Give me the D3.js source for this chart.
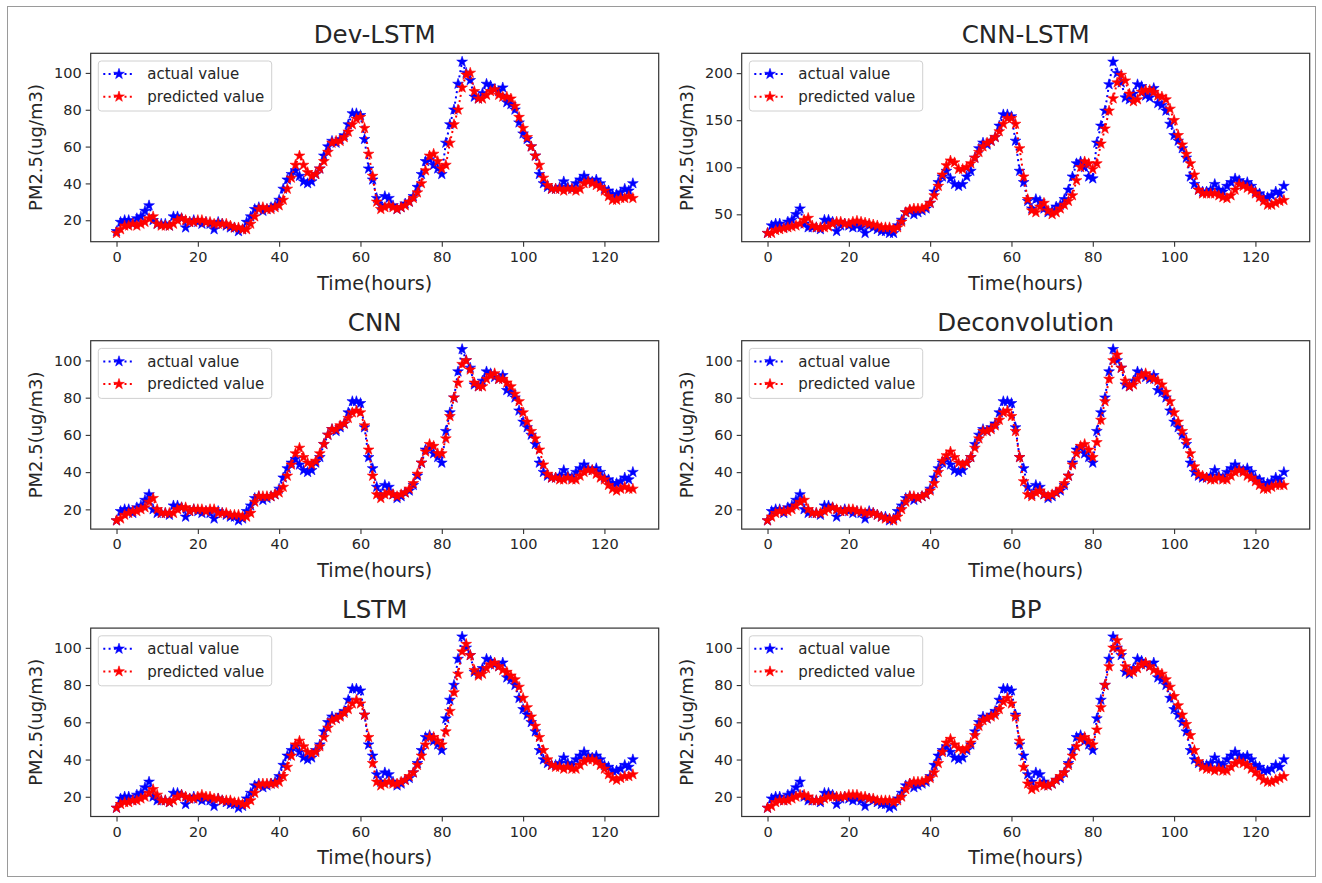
<!DOCTYPE html>
<html>
<head>
<meta charset="utf-8">
<script src="https://cdn.jsdelivr.net/npm/d3@7"></script>
<style>
html,body{margin:0;padding:0;background:#fff;}
svg{display:block;}
text{font-family:"DejaVu Sans",sans-serif;fill:#262626;}
</style>
</head>
<body>
<svg id="chart" width="1322" height="883"></svg>
<script>
// ---------------- data ----------------
const hours = d3.range(0, 128);
const xTickLabels = [0, 20, 40, 60, 80, 100, 120];
const yTickLabels = [20, 40, 60, 80, 100];
const yTickLabelsCnnLstm = [50, 100, 150, 200];
const panelTitles = ["Dev-LSTM", "CNN-LSTM", "CNN", "Deconvolution", "LSTM", "BP"];
const legendLabels = ["actual value", "predicted value"];

const actualValue = [
14,19,20,20,18,21,22,25,28,20,
18,18,18,17,22,22,21,16,19,20,
19,18,19,18,15,19,18,17,16,16,
14,15,19,22,26,27,25,26,27,28,
31,37,42,45,47,44,41,40,41,45,
48,55,60,63,62,64,66,72,78,78,
77,64,48,42,32,28,33,32,28,26,
27,29,30,33,38,45,52,53,50,48,
45,62,72,80,94,106,100,96,87,86,
89,94,93,91,90,92,84,83,80,73,
67,64,60,55,45,40,38,37,37,38,
41,38,37,40,42,44,42,41,42,40,
37,36,34,34,35,37,36,40];

const actualValueCnnLstm = [
30,38,40,40,36,42,44,50,56,40,
36,36,36,34,44,44,42,32,38,40,
38,36,38,36,30,38,36,34,32,32,
30,30,38,44,52,54,50,52,54,56,
62,74,84,90,96,88,82,80,82,90,
96,110,120,126,124,128,132,144,156,156,
154,128,96,84,64,56,66,64,56,52,
54,58,60,66,76,90,104,106,100,90,
88,126,144,160,188,212,200,190,174,172,
178,188,186,176,174,184,168,166,160,146,
134,128,120,110,90,82,76,74,74,76,
82,76,74,80,84,88,86,82,84,80,
74,72,68,68,70,74,72,80];

const predDevLstm = [
13,15,17,17,18,17,18,19,21,22,
18,17,17,17,18,20,21,20,19,19,
20,20,19,19,18,18,18,18,17,16,
16,15,15,18,22,26,27,26,26,27,
28,31,37,43,50,55,50,46,44,45,
48,52,57,62,63,63,65,68,72,75,
76,70,56,44,30,26,27,28,27,26,
27,28,30,32,35,40,47,55,56,52,
48,50,62,72,80,92,99,100,90,86,
86,88,90,91,88,87,87,86,82,76,
70,65,60,55,50,43,39,37,37,37,
36,37,37,36,37,40,41,40,39,38,
36,33,31,31,32,32,33,32];

const predCnnLstm = [
30,30,33,34,35,36,37,38,40,44,
46,38,36,36,36,37,40,42,42,40,
40,42,43,42,41,40,39,38,36,36,
36,34,36,42,52,55,56,56,56,58,
62,70,80,92,102,107,105,98,98,100,
104,110,116,122,126,128,132,138,146,152,
152,146,120,90,66,54,52,58,62,54,
50,52,56,60,64,70,86,100,106,104,
98,104,125,141,160,173,190,198,192,178,
170,172,180,182,182,180,176,175,172,162,
150,134,124,114,104,92,76,72,72,72,
72,70,68,67,70,76,82,80,78,76,
72,68,64,60,60,62,64,65];

const predCnn = [
14,15,17,18,19,19,20,21,24,26,
20,18,18,18,18,20,21,21,19,20,
20,20,19,20,20,18,18,18,17,17,
17,16,16,18,24,27,27,27,27,28,
29,32,38,44,50,53,48,45,44,46,
50,55,60,63,63,65,66,69,72,73,
72,65,52,38,28,26,28,29,28,27,
28,29,31,34,39,45,51,55,54,50,
50,58,70,80,88,98,100,95,88,86,
86,90,92,93,90,90,88,86,82,78,
72,67,62,58,52,44,39,37,37,36,
36,37,36,36,38,40,41,41,39,37,
36,33,31,30,31,32,31,31];

const predDeconv = [
14,16,18,19,19,19,20,22,24,25,
20,18,18,18,19,20,21,20,19,19,
20,20,19,19,18,18,18,17,16,15,
15,14,16,20,24,27,27,26,27,28,
30,34,40,46,49,51,48,45,44,45,
48,53,58,62,62,63,65,68,72,73,
70,62,48,35,28,27,29,30,28,27,
28,29,31,34,38,44,50,54,55,52,
48,56,68,78,90,100,103,96,89,86,
87,90,92,93,91,90,89,87,83,78,
72,67,62,57,50,43,39,38,37,36,
36,37,36,36,38,40,41,40,38,37,
35,33,31,31,32,33,33,33];

const predLstm = [
14,16,17,17,18,18,19,20,22,24,
21,18,18,17,18,20,21,20,19,19,
20,21,20,20,19,19,18,18,18,17,
17,16,16,18,22,26,27,27,27,27,
28,31,36,42,48,50,47,44,43,44,
47,52,57,61,62,63,65,67,70,72,
70,64,52,38,28,26,27,28,27,27,
28,29,31,33,37,42,48,52,52,50,
48,55,66,76,86,98,102,96,88,85,
86,89,91,92,90,88,87,85,83,79,
73,68,63,58,52,45,40,37,36,36,
35,36,35,35,37,39,40,40,39,37,
35,32,30,29,30,31,31,32];

const predBp = [
14,15,17,18,18,18,19,20,21,21,
20,18,18,18,19,20,20,20,20,20,
21,21,21,20,20,19,19,18,18,18,
18,17,18,20,24,27,28,28,28,29,
30,33,38,44,49,51,48,46,45,46,
49,53,58,61,62,63,64,67,71,73,
70,63,50,36,27,24,25,27,26,26,
27,29,31,33,37,42,47,51,52,50,
48,56,68,80,90,100,104,98,90,87,
87,89,91,92,90,88,87,86,83,79,
74,69,64,59,53,45,39,36,35,35,
34,35,34,34,36,38,39,38,37,35,
33,31,29,28,28,29,30,31];

// ---------------- layout ----------------
const colLeft = [90.7, 741.7];
const rowTop = [53.3, 340.7, 628.1];
const axW = 568, axH = 188.4;

const panels = [
  {title: panelTitles[0], actual: actualValue, pred: predDevLstm, yt: yTickLabels},
  {title: panelTitles[1], actual: actualValueCnnLstm, pred: predCnnLstm, yt: yTickLabelsCnnLstm},
  {title: panelTitles[2], actual: actualValue, pred: predCnn, yt: yTickLabels},
  {title: panelTitles[3], actual: actualValue, pred: predDeconv, yt: yTickLabels},
  {title: panelTitles[4], actual: actualValue, pred: predLstm, yt: yTickLabels},
  {title: panelTitles[5], actual: actualValue, pred: predBp, yt: yTickLabels}
];

const svg = d3.select("#chart");
svg.append("rect").attr("x", 7.5).attr("y", 6.5).attr("width", 1308).attr("height", 870)
  .attr("fill", "none").attr("stroke", "#9a9a9a").attr("stroke-width", 1);

const BLUE = "#0000ff", RED = "#ff0000";
const star = d3.symbol().type(d3.symbolStar).size(36);

panels.forEach((p, k) => {
  const col = k % 2, row = Math.floor(k / 2);
  const g = svg.append("g").attr("transform", `translate(${colLeft[col]},${rowTop[row]})`);

  const x = d3.scaleLinear().domain([-6.35, 133.35]).range([0, axW]);
  const all = p.actual.concat(p.pred);
  const lo = d3.min(all), hi = d3.max(all), pad = (hi - lo) * 0.05;
  const y = d3.scaleLinear().domain([lo - pad, hi + pad]).range([axH, 0]);

  // axes
  const xa = g.append("g").attr("transform", `translate(0,${axH})`)
    .call(d3.axisBottom(x).tickValues(xTickLabels).tickSize(5).tickPadding(4).tickFormat(d3.format("d")));
  const ya = g.append("g")
    .call(d3.axisLeft(y).tickValues(p.yt).tickSize(5).tickPadding(4).tickFormat(d3.format("d")));
  [xa, ya].forEach(a => {
    a.select(".domain").remove();
    a.selectAll(".tick line").attr("stroke", "#333").attr("stroke-width", 1.1);
    a.selectAll(".tick text").attr("font-size", 14.5).attr("fill", "#262626")
      .attr("font-family", "DejaVu Sans");
  });
  xa.selectAll(".tick text").attr("dy", "0.76em");

  // series
  const line = d3.line().x((d, i) => x(hours[i])).y(d => y(d));
  [[p.actual, BLUE], [p.pred, RED]].forEach(([data, c]) => {
    g.append("path").datum(data).attr("d", line).attr("fill", "none")
      .attr("stroke", c).attr("stroke-width", 2).attr("stroke-dasharray", "2,3.3");
    g.append("g").selectAll("path").data(data).join("path")
      .attr("d", star).attr("fill", c).attr("stroke", c).attr("stroke-width", 0.6)
      .attr("transform", (d, i) => `translate(${x(hours[i])},${y(d)})`);
  });

  // frame
  g.append("rect").attr("x", 0).attr("y", 0).attr("width", axW).attr("height", axH)
    .attr("fill", "none").attr("stroke", "#333").attr("stroke-width", 1.2);

  // legend
  const lg = g.append("g").attr("transform", "translate(7.6,7.7)");
  lg.append("rect").attr("width", 173.4).attr("height", 50).attr("rx", 3)
    .attr("fill", "#fff").attr("fill-opacity", 0.8).attr("stroke", "#d0d0d0").attr("stroke-width", 1);
  [[BLUE, 13], [RED, 35.7]].forEach(([c, yy], j) => {
    lg.append("line").attr("x1", 5).attr("x2", 36).attr("y1", yy).attr("y2", yy)
      .attr("stroke", c).attr("stroke-width", 2).attr("stroke-dasharray", "2,3.3");
    lg.append("path").attr("d", star).attr("fill", c).attr("stroke", c).attr("stroke-width", 0.6)
      .attr("transform", `translate(20.7,${yy})`);
    lg.append("text").attr("x", 49).attr("y", yy).attr("dy", "0.36em")
      .attr("font-size", 15).text(legendLabels[j]);
  });

  // labels
  g.append("text").attr("x", axW / 2).attr("y", -10).attr("text-anchor", "middle")
    .attr("font-size", 24.5).text(p.title);
  g.append("text").attr("x", axW / 2).attr("y", axH + 48).attr("text-anchor", "middle")
    .attr("font-size", 19).text("Time(hours)");
  g.append("text").attr("transform", `translate(-49,${axH / 2}) rotate(-90)`)
    .attr("text-anchor", "middle").attr("font-size", 18).text("PM2.5(ug/m3)");
});
</script>
</body>
</html>
